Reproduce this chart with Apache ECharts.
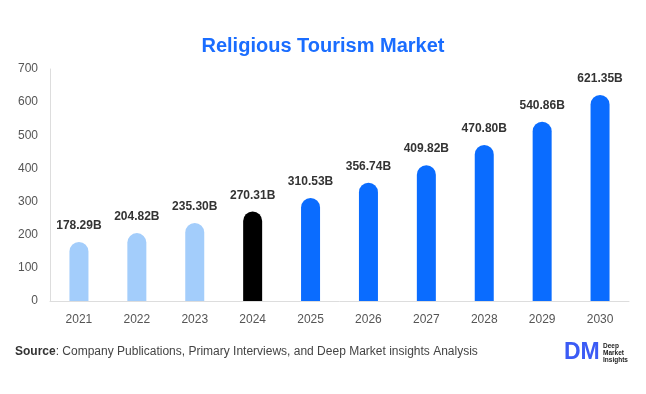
<!DOCTYPE html>
<html><head><meta charset="utf-8">
<script src="https://cdn.jsdelivr.net/npm/echarts@6/dist/echarts.min.js"></script>
<style>html,body{margin:0;padding:0;background:#fff}#c{width:646px;height:394px}</style>
</head><body><div id="c"></div>
<script>
const categories = ['2021','2022','2023','2024','2025','2026','2027','2028','2029','2030'];
const values = [178.29,204.82,235.30,270.31,310.53,356.74,409.82,470.80,540.86,621.35];
const yTicks = [0,100,200,300,400,500,600,700];
const colorHist = '#a3cdfb', colorBase = '#000000', colorFcst = '#0a6cff';
const chart = echarts.init(document.getElementById('c'));
chart.setOption({
  animation:false,
  title:{text:'Religious Tourism Market',left:'center',top:31,textStyle:{color:'#1a6dff',fontSize:20,fontWeight:'bold',fontFamily:'Liberation Sans, Arial'}},
  grid:{left:50,right:17,top:69,bottom:93},
  xAxis:{type:'category',data:categories,axisLine:{lineStyle:{color:'#ddd'}},axisTick:{show:false},
    axisLabel:{color:'#555',fontSize:12,margin:13,fontFamily:'Liberation Sans, Arial'}},
  yAxis:{type:'value',min:yTicks[0],max:yTicks[yTicks.length-1],interval:100,
    axisLine:{show:true,lineStyle:{color:'#ddd'}},axisTick:{show:false},splitLine:{show:false},
    axisLabel:{color:'#555',fontSize:12,margin:12,fontFamily:'Liberation Sans, Arial'}},
  series:[{type:'bar',barWidth:19,data:values.map((v,i)=>({value:v,itemStyle:{color:i<3?colorHist:(i===3?colorBase:colorFcst)}})),
    itemStyle:{borderRadius:[10,10,0,0]},
    label:{show:true,position:'top',distance:10,formatter:p=>p.value.toFixed(2)+'B',color:'#333',fontWeight:'bold',fontSize:12,fontFamily:'Liberation Sans, Arial'}}],
  graphic:[
    {type:'text',left:15,top:346,style:{rich:{b:{fontWeight:'bold',fill:'#333',fontSize:12},n:{fill:'#444',fontSize:12}},text:'{b|Source}{n|: Company Publications, Primary Interviews, and Deep Market insights Analysis}',fontFamily:'Roboto'}},
    {type:'text',left:564,top:341,style:{text:'DM',fill:'#3b5bf5',fontSize:23,fontWeight:'bold',fontFamily:'Liberation Sans'}},
    {type:'text',left:603,top:343,style:{text:'Deep\nMarket\nInsights',fill:'#222',fontSize:6.5,lineHeight:7,fontWeight:'bold',fontFamily:'Liberation Sans'}}
  ]
});
</script></body></html>
